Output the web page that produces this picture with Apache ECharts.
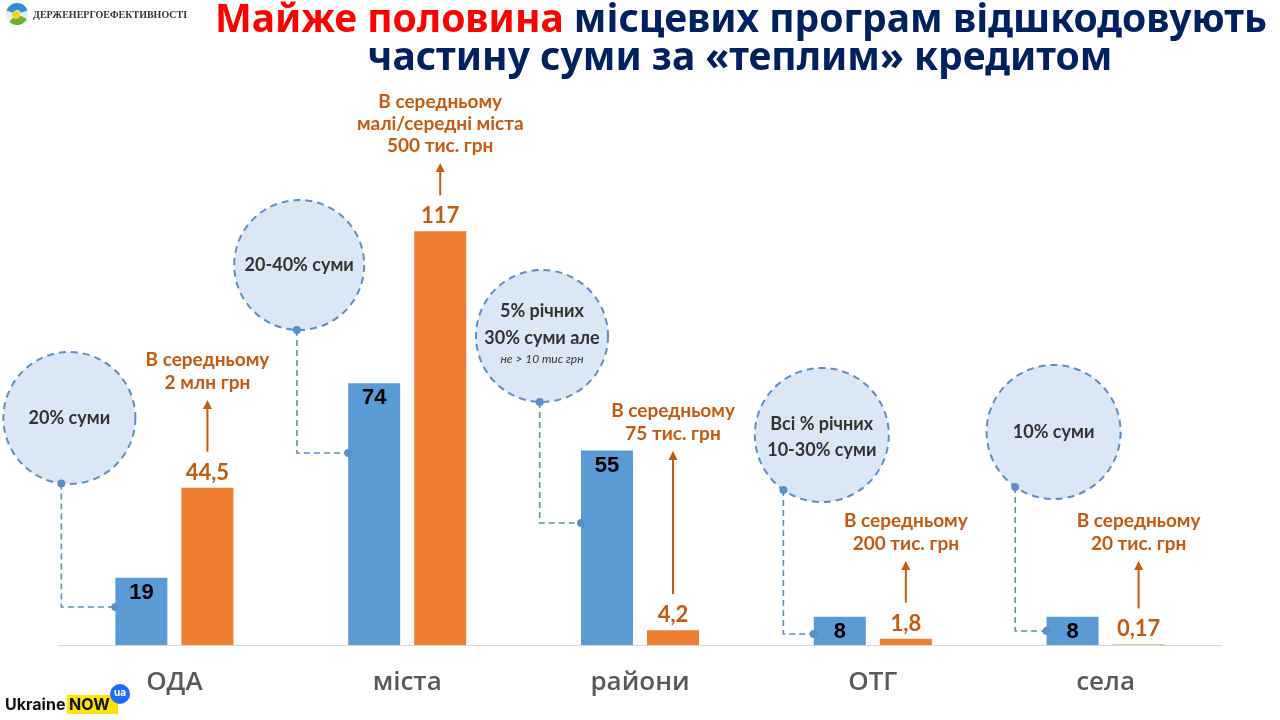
<!DOCTYPE html>
<html>
<head>
<meta charset="utf-8">
<script src="https://cdn.jsdelivr.net/npm/echarts@6/dist/echarts.min.js"></script>
<style>
html,body{margin:0;padding:0;background:#fff;}
#c{width:1280px;height:720px;}
</style>
</head>
<body>
<div id="c"></div>
<script>
// ---- data ----
var categories = ['ОДА', 'міста', 'райони', 'ОТГ', 'села'];
var programsCount = [19, 74, 55, 8, 8];          // blue bars
var avgAmount = [44.5, 117, 4.2, 1.8, 0.17];     // orange bars
var circleNotes = [
  ['20% суми'],
  ['20-40% суми'],
  ['5% річних', '30% суми але', 'не > 10 тис грн'],
  ['Всі % річних', '10-30% суми'],
  ['10% суми']
];
var avgNotes = [
  ['В середньому', '2 млн грн'],
  ['В середньому', 'малі/середні міста', '500 тис. грн'],
  ['В середньому', '75 тис. грн'],
  ['В середньому', '200 тис. грн'],
  ['В середньому', '20 тис. грн']
];

// ---- annotation layout (pixels, relative to category centre) ----
var circleLayout = [
  {dx: -105, cy: 418, r: 66, dotAng: 97, connY: 607},
  {dx: -108, cy: 265, r: 65, dotAng: 92, connY: 453},
  {dx: -98,  cy: 336, r: 66, dotAng: 92, connY: 523},
  {dx: -51,  cy: 435, r: 67, dotAng: 125, connY: 634},
  {dx: -52,  cy: 432, r: 67, dotAng: 125, connY: 631}
];
var arrowTop = [400, 163, 451, 561, 561];

var fmt = function (v) { return String(v).replace('.', ','); };

var chart = echarts.init(document.getElementById('c'), null, {renderer: 'canvas'});
var BW = 52;
chart.setOption({
  animation: false,
  backgroundColor: '#ffffff',
  grid: {left: 58, right: 58, top: 150, bottom: 75},
  xAxis: {
    type: 'category',
    data: categories,
    axisLine: {lineStyle: {color: '#d9d9d9', width: 1}},
    axisTick: {show: false},
    axisLabel: {fontSize: 26, color: '#595959', fontFamily: 'Open Sans', fontWeight: 600, margin: 25}
  },
  yAxis: {type: 'value', min: 0, max: 140, show: false, splitLine: {show: false}},
  series: [
    {
      type: 'bar', data: programsCount, barWidth: BW, barGap: '27%',
      itemStyle: {color: '#5b9bd5'},
      label: {show: true, position: 'insideTop', distance: 4, color: '#000',
        fontSize: 22, fontWeight: 'bold', fontFamily: 'Liberation Sans', formatter: function (p) { return fmt(p.value); }}
    },
    {
      type: 'bar', data: avgAmount, barWidth: BW,
      itemStyle: {color: '#ed7d31'},
      label: {show: true, position: 'top', distance: 4, color: '#c55a11',
        fontSize: 22, fontWeight: 'bold', fontFamily: 'Lato', formatter: function (p) { return fmt(p.value); }}
    }
  ]
});

function buildGraphics() {
  var g = [];
  var circStroke = '#5b8fc7';
  var orangeText = '#c55a11';
  categories.forEach(function (cat, i) {
    var cx = chart.convertToPixel({xAxisIndex: 0}, cat);
    var L = circleLayout[i];
    var ccx = cx + L.dx;
    // circle
    g.push({type: 'circle', z: 1, shape: {cx: ccx, cy: L.cy, r: L.r},
      style: {fill: '#dbe7f4', stroke: circStroke, lineWidth: 2, lineDash: [7, 5]}});
    // circle text
    var lines = circleNotes[i];
    var ys;
    if (lines.length === 3) ys = [L.cy - 25, L.cy + 2, L.cy + 23];
    else if (lines.length === 2) ys = [L.cy - 11, L.cy + 15];
    else ys = [L.cy];
    lines.forEach(function (t, k) {
      var small = (lines.length === 3 && k === 2);
      g.push({type: 'text', z: 5, style: {text: t, x: ccx, y: ys[k],
        textAlign: 'center', textVerticalAlign: 'middle', fill: '#333',
        font: small ? 'italic 12px Lato' : 'bold 18px Lato'}});
    });
    // connector
    var a = L.dotAng * Math.PI / 180;
    var dx = ccx + L.r * Math.cos(a);
    var dy = L.cy + L.r * Math.sin(a);
    var barLeft = cx - BW * 0.27 / 2 - BW;
    g.push({type: 'polyline', z: 2, shape: {points: [[dx, dy], [dx, L.connY], [barLeft, L.connY]]},
      style: {stroke: circStroke, lineWidth: 1.6, lineDash: [6, 4], fill: null}});
    g.push({type: 'circle', z: 3, shape: {cx: dx, cy: dy, r: 4}, style: {fill: circStroke}});
    g.push({type: 'circle', z: 3, shape: {cx: barLeft, cy: L.connY, r: 4}, style: {fill: circStroke}});
    // orange arrow
    var ox = cx + BW * 0.27 / 2 + BW / 2;
    var barTop = chart.convertToPixel({yAxisIndex: 0}, avgAmount[i]);
    var ab = barTop - 36;
    var at = arrowTop[i];
    g.push({type: 'line', z: 3, shape: {x1: ox, y1: ab, x2: ox, y2: at + 6},
      style: {stroke: orangeText, lineWidth: 2}});
    g.push({type: 'polygon', z: 3, shape: {points: [[ox, at], [ox - 4.5, at + 9], [ox + 4.5, at + 9]]},
      style: {fill: orangeText}});
    var nl = avgNotes[i];
    var nlh = nl.length === 3 ? 22 : 23;
    nl.forEach(function (t, k) {
      var y = at - 17 - (nl.length - 1 - k) * nlh;
      g.push({type: 'text', z: 5, style: {text: t, x: ox, y: y, textAlign: 'center', textVerticalAlign: 'middle',
        fill: orangeText, font: 'bold 19px Lato'}});
    });
  });

  // title
  g.push({type: 'text', z: 10, style: {
    text: '{r|Майже половина }{b|місцевих програм відшкодовують}', x: 741, y: 21,
    textAlign: 'center', textVerticalAlign: 'middle',
    rich: {r: {fill: '#ff0000', font: 'bold 39px "Noto Sans"'}, b: {fill: '#002060', font: 'bold 39px "Noto Sans"'}}
  }});
  g.push({type: 'text', z: 10, style: {
    text: 'частину суми за «теплим» кредитом', x: 740, y: 59,
    textAlign: 'center', textVerticalAlign: 'middle', fill: '#002060', font: 'bold 39px "Noto Sans"'
  }});

  // top-left logo
  g.push({type: 'circle', shape: {cx: 17, cy: 14, r: 11}, style: {fill: '#e6eef0'}});
  g.push({type: 'sector', shape: {cx: 17, cy: 14, r: 11, r0: 4, startAngle: -Math.PI * 0.9, endAngle: -Math.PI * 0.1}, style: {fill: '#2e8fd8'}});
  g.push({type: 'sector', shape: {cx: 17, cy: 14, r: 11, r0: 4, startAngle: Math.PI * 0.15, endAngle: Math.PI * 0.75}, style: {fill: '#69b42e'}});
  g.push({type: 'circle', shape: {cx: 16, cy: 15, r: 4}, style: {fill: '#f4d21f'}});
  g.push({type: 'text', style: {text: 'ДЕРЖЕНЕРГОЕФЕКТИВНОСТІ', x: 33, y: 15, textVerticalAlign: 'middle',
    fill: '#333', font: 'bold 10px "Liberation Serif"'}});

  // bottom-left logo
  g.push({type: 'text', style: {text: 'Ukraine', x: 5, y: 705, textVerticalAlign: 'middle', fill: '#111', font: 'bold 16px Inter'}});
  g.push({type: 'rect', shape: {x: 67, y: 695, width: 51, height: 19}, style: {fill: '#ffe400'}});
  g.push({type: 'text', style: {text: 'NOW', x: 69, y: 705, textVerticalAlign: 'middle', fill: '#111', font: 'bold 16px Inter'}});
  g.push({type: 'circle', shape: {cx: 120, cy: 694, r: 10}, style: {fill: '#1f6bff'}});
  g.push({type: 'text', style: {text: 'ua', x: 120, y: 693, textAlign: 'center', textVerticalAlign: 'middle', fill: '#fff', font: 'bold 10px Inter'}});

  chart.setOption({graphic: {elements: g}});
}
buildGraphics();
</script>
</body>
</html>
